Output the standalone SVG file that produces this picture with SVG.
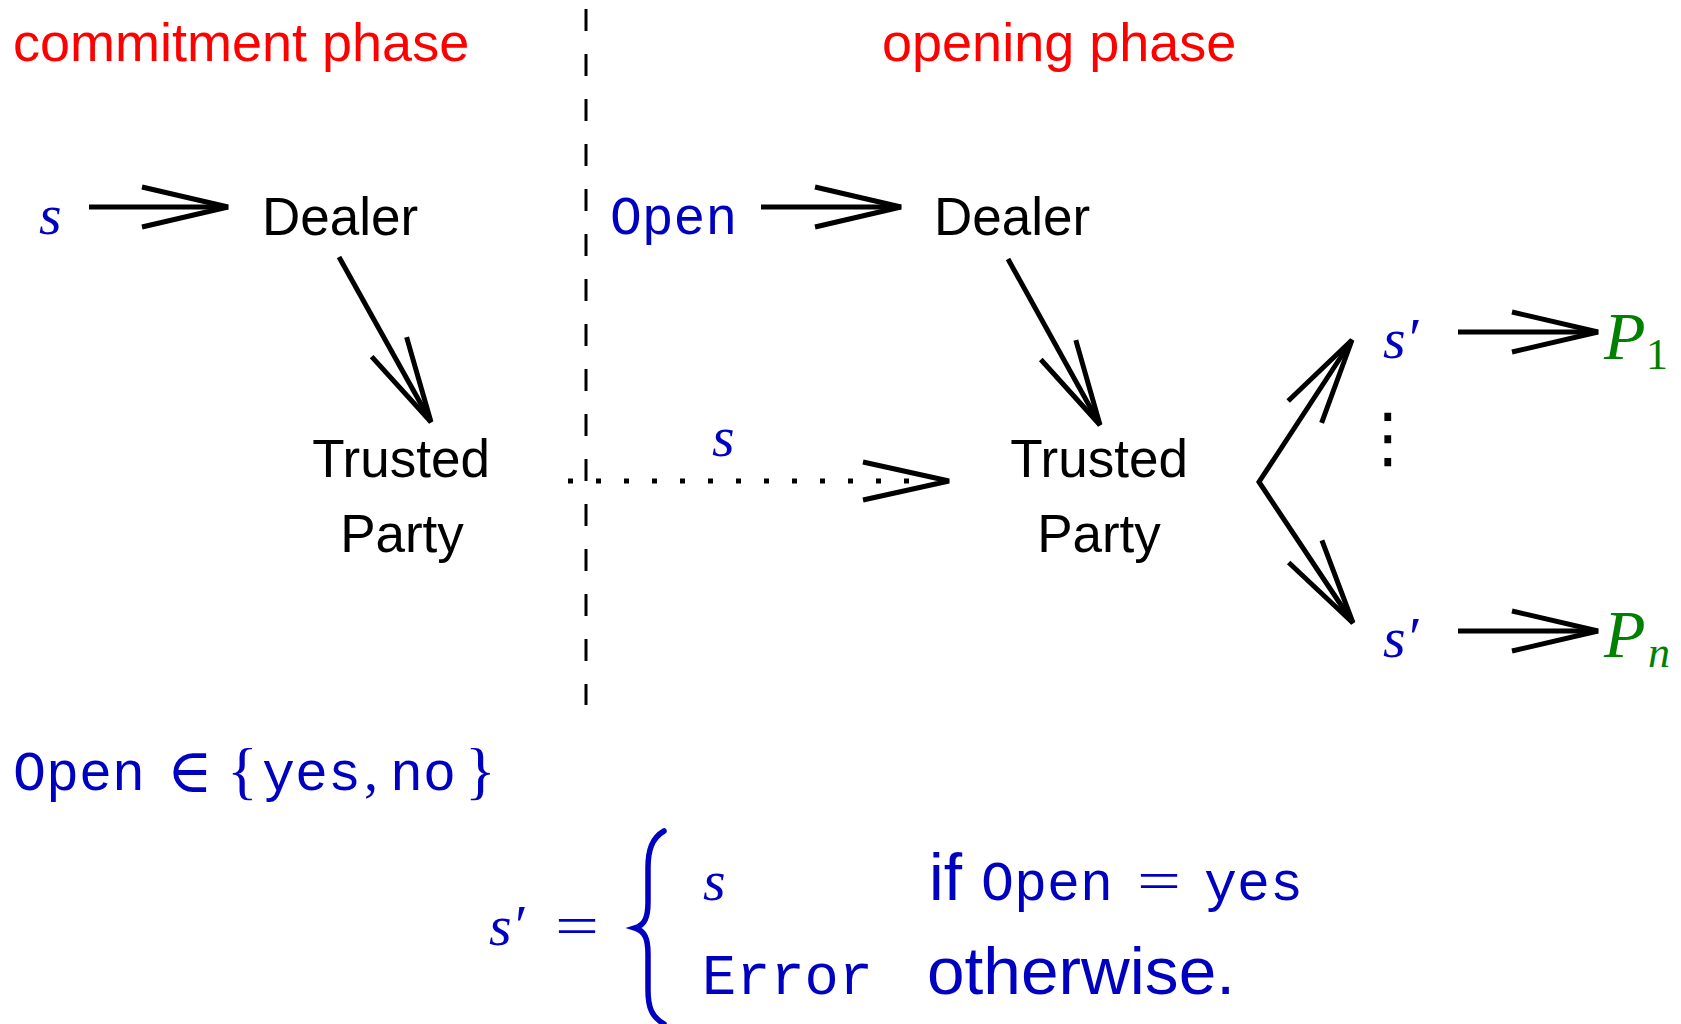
<svg xmlns="http://www.w3.org/2000/svg" width="1681" height="1024" viewBox="0 0 1681 1024">
<style>
.sans{font-family:"Liberation Sans",Arial,sans-serif;}
.node{font-family:"Liberation Sans",Arial,sans-serif;font-size:53px;fill:#000;}
.phase{font-family:"Liberation Sans",Arial,sans-serif;font-size:54px;fill:#ff0000;}
.mi{font-family:"Liberation Serif","DejaVu Serif",serif;font-style:italic;font-size:58px;fill:#0000c0;}
.tt{font-family:"Liberation Mono","DejaVu Sans Mono",monospace;fill:#0000c0;}
.rm{font-family:"Liberation Serif","DejaVu Serif",serif;fill:#0000c0;}
.bl{fill:#0000c0;}
.gr{font-family:"Liberation Serif","DejaVu Serif",serif;fill:#008000;}
.conn{fill:none;stroke:#000;stroke-width:5;}
</style>
<defs>
<marker id="arr" viewBox="-100 -25 105 50" refX="0" refY="0" markerWidth="105" markerHeight="50" markerUnits="userSpaceOnUse" orient="auto-start-reverse" overflow="visible">
<path d="M-86,-20 L0,0 L-86,20" fill="none" stroke="#000" stroke-width="5"/>
</marker>
</defs>

<g id="phase-labels">
<text class="phase" x="13" y="61">commitment phase</text>
<text class="phase" x="882" y="61">opening phase</text>
</g>

<g id="divider">
<path d="M586 9 L586 705" fill="none" stroke="#000" stroke-width="3" stroke-dasharray="22 23"/>
</g>

<g id="connectors">
<path class="conn" d="M89 207 L228 207" marker-end="url(#arr)"/>
<path class="conn" d="M761 207 L901 207" marker-end="url(#arr)"/>
<path class="conn" d="M339 257 L431 422" marker-end="url(#arr)"/>
<path class="conn" d="M1008 259 L1100 425" marker-end="url(#arr)"/>
<path class="conn" d="M568 481 L915 481" stroke-dasharray="5 23"/>
<path class="conn" d="M863 462 L949 481 L863 500"/>
<path class="conn" d="M1352 340 L1259 482 L1353 623" marker-start="url(#arr)" marker-end="url(#arr)"/>
<path class="conn" d="M1458 332 L1598 332" marker-end="url(#arr)"/>
<path class="conn" d="M1458 631 L1598 631" marker-end="url(#arr)"/>
</g>

<g id="node-s-input"><text class="mi" x="39" y="234">s</text></g>
<g id="node-dealer-commit"><text class="node" x="262" y="235">Dealer</text></g>
<g id="node-tp-commit">
<text class="node" x="401" y="477" text-anchor="middle">Trusted</text>
<text class="node" x="402" y="552" text-anchor="middle">Party</text>
</g>
<g id="node-open-input"><text class="tt" x="610" y="234" font-size="53">Open</text></g>
<g id="node-dealer-open"><text class="node" x="934" y="235">Dealer</text></g>
<g id="label-s-dotted"><text class="mi" x="712" y="456">s</text></g>
<g id="node-tp-open">
<text class="node" x="1099" y="477" text-anchor="middle">Trusted</text>
<text class="node" x="1099" y="552" text-anchor="middle">Party</text>
</g>
<g id="node-sprime-1"><text class="mi" x="1383" y="358">s′</text></g>
<g id="node-vdots"><text x="1388" y="460" text-anchor="middle" font-family="DejaVu Sans,sans-serif" font-size="66" fill="#000">⋮</text></g>
<g id="node-sprime-n"><text class="mi" x="1383" y="657">s′</text></g>
<g id="node-p1"><text class="gr" x="1604" y="359" font-size="68" font-style="italic">P<tspan x="1646" y="369" font-size="44" font-style="normal">1</tspan></text></g>
<g id="node-pn"><text class="gr" x="1604" y="657" font-size="68" font-style="italic">P<tspan x="1648" y="667" font-size="44">n</tspan></text></g>

<g id="open-domain">
<text class="tt" x="13" y="790" font-size="55">Open</text>
<text class="rm" x="167" y="792" font-size="62">∈</text>
<text class="rm" x="227" y="792" font-size="64">{</text>
<text class="tt" x="262" y="790" font-size="55">yes</text>
<text class="rm" x="364" y="790" font-size="56">,</text>
<text class="tt" x="390" y="790" font-size="55">no</text>
<text class="rm" x="465" y="792" font-size="64">}</text>
</g>

<g id="definition">
<text class="mi" x="489" y="945">s′</text>
<text class="rm" x="555" y="945" font-size="56" textLength="44" lengthAdjust="spacingAndGlyphs">=</text>
<path d="M664 831 C652 838 648 850 648 868 L648 902 C648 917 645 925 635 928 C645 931 648 939 648 954 L648 990 C648 1008 652 1017 664 1024" fill="none" stroke="#0000c0" stroke-width="5.5" stroke-linecap="round"/>
<text class="mi" x="703" y="900">s</text>
<text class="sans bl" x="929" y="900" font-size="66">if</text>
<text class="tt" x="981" y="900" font-size="55">Open</text>
<text class="rm" x="1137" y="900" font-size="56" textLength="44" lengthAdjust="spacingAndGlyphs">=</text>
<text class="tt" x="1204" y="900" font-size="55">yes</text>
<text class="tt" x="702" y="994" font-size="57">Error</text>
<text class="sans bl" x="927" y="994" font-size="66" textLength="308" lengthAdjust="spacingAndGlyphs">otherwise.</text>
</g>
</svg>
